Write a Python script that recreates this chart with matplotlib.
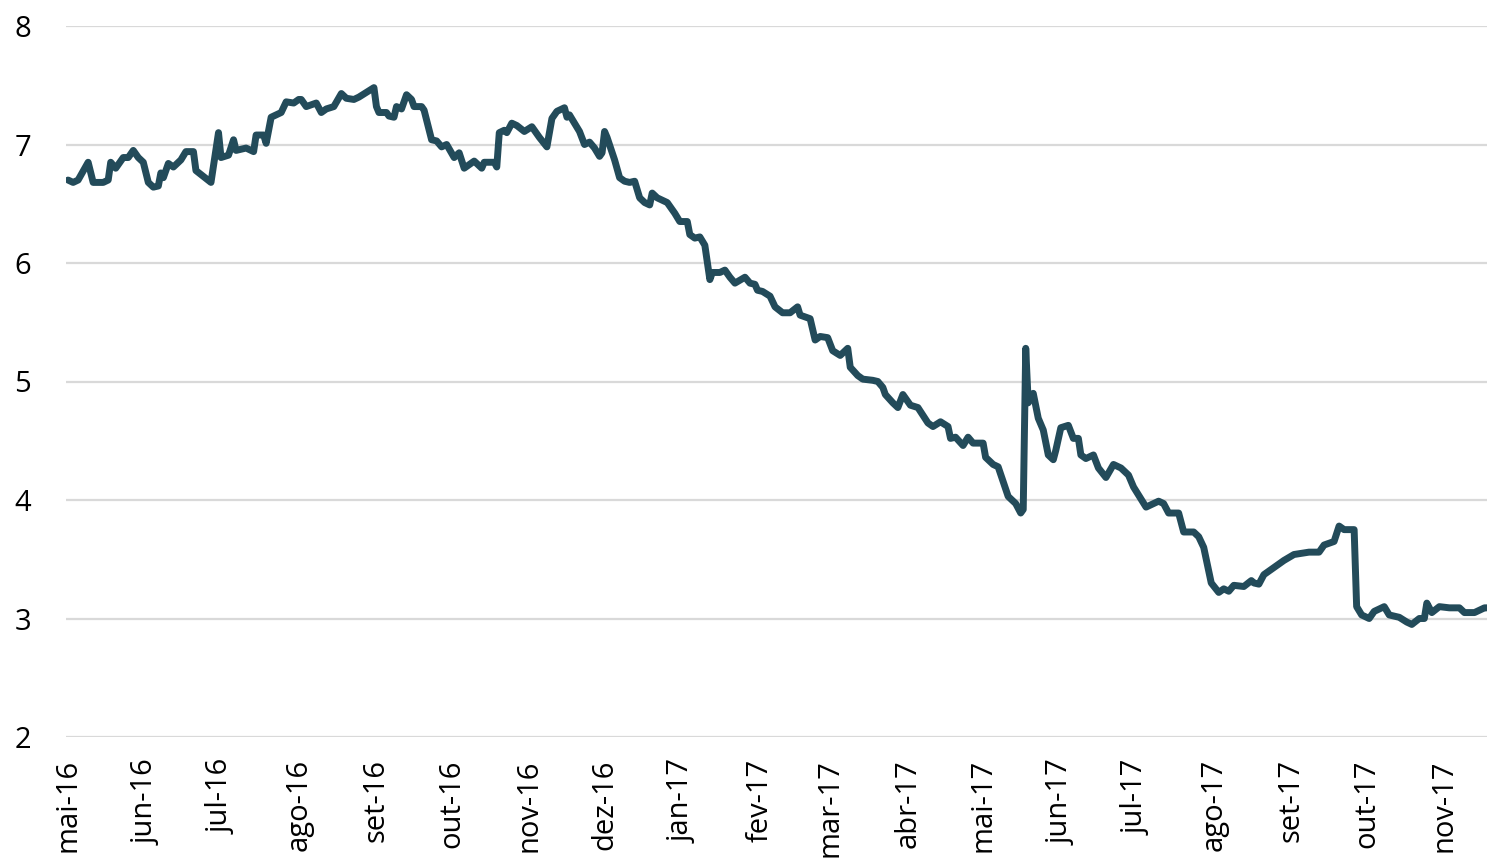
import matplotlib
matplotlib.use("Agg")
from matplotlib import pyplot as plt
import pandas as pd

# série (data, valor)
datas = [
    "2016-05-01", "2016-05-03", "2016-05-05", "2016-05-09", "2016-05-11", "2016-05-15",
    "2016-05-17", "2016-05-18", "2016-05-20", "2016-05-23", "2016-05-25", "2016-05-27",
    "2016-05-29", "2016-05-31", "2016-06-02", "2016-06-04", "2016-06-06", "2016-06-07",
    "2016-06-08", "2016-06-10", "2016-06-12", "2016-06-15", "2016-06-17", "2016-06-20",
    "2016-06-21", "2016-06-24", "2016-06-27", "2016-06-30", "2016-07-01", "2016-07-04",
    "2016-07-06", "2016-07-07", "2016-07-11", "2016-07-14", "2016-07-15", "2016-07-18",
    "2016-07-19", "2016-07-21", "2016-07-25", "2016-07-27", "2016-07-30", "2016-08-01",
    "2016-08-02", "2016-08-04", "2016-08-08", "2016-08-10", "2016-08-12", "2016-08-15",
    "2016-08-18", "2016-08-20", "2016-08-23", "2016-08-25", "2016-08-28", "2016-08-31",
    "2016-09-01", "2016-09-02", "2016-09-05", "2016-09-06", "2016-09-08", "2016-09-09",
    "2016-09-11", "2016-09-13", "2016-09-15", "2016-09-16", "2016-09-19", "2016-09-20",
    "2016-09-23", "2016-09-25", "2016-09-27", "2016-09-29", "2016-10-02", "2016-10-04",
    "2016-10-06", "2016-10-10", "2016-10-13", "2016-10-14", "2016-10-18", "2016-10-19",
    "2016-10-20", "2016-10-22", "2016-10-23", "2016-10-25", "2016-10-27", "2016-10-30",
    "2016-11-02", "2016-11-05", "2016-11-08", "2016-11-10", "2016-11-12", "2016-11-15",
    "2016-11-16", "2016-11-17", "2016-11-21", "2016-11-23", "2016-11-25", "2016-11-27",
    "2016-11-29", "2016-11-30", "2016-12-01", "2016-12-02", "2016-12-05", "2016-12-07",
    "2016-12-09", "2016-12-11", "2016-12-13", "2016-12-15", "2016-12-17", "2016-12-19",
    "2016-12-20", "2016-12-22", "2016-12-26", "2016-12-29", "2016-12-31", "2017-01-03",
    "2017-01-04", "2017-01-06", "2017-01-08", "2017-01-10", "2017-01-12", "2017-01-13",
    "2017-01-16", "2017-01-18", "2017-01-20", "2017-01-22", "2017-01-26", "2017-01-28",
    "2017-01-30", "2017-01-31", "2017-02-02", "2017-02-05", "2017-02-07", "2017-02-10",
    "2017-02-13", "2017-02-16", "2017-02-17", "2017-02-21", "2017-02-23", "2017-02-25",
    "2017-02-28", "2017-03-02", "2017-03-05", "2017-03-08", "2017-03-09", "2017-03-12",
    "2017-03-14", "2017-03-18", "2017-03-20", "2017-03-22", "2017-03-23", "2017-03-26",
    "2017-03-28", "2017-03-30", "2017-04-02", "2017-04-05", "2017-04-09", "2017-04-11",
    "2017-04-14", "2017-04-17", "2017-04-18", "2017-04-20", "2017-04-23", "2017-04-25",
    "2017-04-27", "2017-05-01", "2017-05-02", "2017-05-03", "2017-05-05", "2017-05-07",
    "2017-05-11", "2017-05-14", "2017-05-16", "2017-05-17", "2017-05-18", "2017-05-19",
    "2017-05-21", "2017-05-23", "2017-05-25", "2017-05-27", "2017-05-29", "2017-05-30",
    "2017-06-01", "2017-06-04", "2017-06-06", "2017-06-08", "2017-06-09", "2017-06-11",
    "2017-06-14", "2017-06-16", "2017-06-19", "2017-06-22", "2017-06-25", "2017-06-28",
    "2017-06-30", "2017-07-05", "2017-07-10", "2017-07-12", "2017-07-14", "2017-07-18",
    "2017-07-20", "2017-07-24", "2017-07-26", "2017-07-28", "2017-07-31", "2017-08-03",
    "2017-08-05", "2017-08-07", "2017-08-09", "2017-08-13", "2017-08-16", "2017-08-17",
    "2017-08-19", "2017-08-21", "2017-08-25", "2017-08-29", "2017-09-02", "2017-09-08",
    "2017-09-12", "2017-09-14", "2017-09-18", "2017-09-20", "2017-09-22", "2017-09-26",
    "2017-09-27", "2017-09-29", "2017-10-02", "2017-10-04", "2017-10-08", "2017-10-10",
    "2017-10-14", "2017-10-17", "2017-10-19", "2017-10-22", "2017-10-24", "2017-10-25",
    "2017-10-27", "2017-10-30", "2017-11-03", "2017-11-07", "2017-11-09", "2017-11-13",
    "2017-11-17", "2017-11-18",
]
valores = [
    6.70, 6.68, 6.70, 6.85, 6.68, 6.68,
    6.70, 6.85, 6.80, 6.89, 6.89, 6.95,
    6.89, 6.85, 6.68, 6.64, 6.65, 6.76,
    6.72, 6.84, 6.81, 6.87, 6.94, 6.94,
    6.78, 6.73, 6.68, 7.10, 6.89, 6.91,
    7.04, 6.95, 6.97, 6.94, 7.08, 7.08,
    7.01, 7.23, 7.27, 7.36, 7.35, 7.38,
    7.38, 7.32, 7.35, 7.27, 7.30, 7.32,
    7.43, 7.39, 7.38, 7.40, 7.44, 7.48,
    7.32, 7.27, 7.27, 7.24, 7.23, 7.32,
    7.30, 7.42, 7.38, 7.32, 7.32, 7.29,
    7.04, 7.03, 6.98, 7.00, 6.89, 6.93,
    6.80, 6.86, 6.80, 6.85, 6.85, 6.81,
    7.10, 7.12, 7.10, 7.18, 7.16, 7.11,
    7.15, 7.06, 6.98, 7.22, 7.28, 7.31,
    7.23, 7.25, 7.11, 7.00, 7.02, 6.97,
    6.90, 6.93, 7.11, 7.06, 6.87, 6.72,
    6.69, 6.68, 6.69, 6.55, 6.51, 6.49,
    6.59, 6.55, 6.51, 6.42, 6.35, 6.35,
    6.24, 6.21, 6.22, 6.15, 5.86, 5.92,
    5.92, 5.94, 5.88, 5.83, 5.88, 5.83,
    5.82, 5.77, 5.76, 5.72, 5.63, 5.58,
    5.58, 5.63, 5.56, 5.53, 5.35, 5.38,
    5.37, 5.26, 5.22, 5.28, 5.12, 5.05,
    5.02, 5.01, 5.00, 4.95, 4.89, 4.82,
    4.78, 4.89, 4.80, 4.78, 4.65, 4.62,
    4.66, 4.62, 4.52, 4.53, 4.46, 4.53,
    4.48, 4.48, 4.36, 4.34, 4.30, 4.28,
    4.03, 3.97, 3.89, 3.92, 5.28, 4.82,
    4.90, 4.69, 4.59, 4.38, 4.34, 4.42,
    4.61, 4.63, 4.52, 4.52, 4.38, 4.35,
    4.38, 4.27, 4.19, 4.30, 4.27, 4.21,
    4.11, 3.94, 3.99, 3.97, 3.89, 3.89,
    3.73, 3.73, 3.69, 3.60, 3.30, 3.22,
    3.25, 3.23, 3.28, 3.27, 3.32, 3.30,
    3.29, 3.37, 3.43, 3.49, 3.54, 3.56,
    3.56, 3.62, 3.65, 3.78, 3.75, 3.75,
    3.10, 3.03, 3.00, 3.06, 3.10, 3.03,
    3.01, 2.97, 2.95, 3.00, 3.00, 3.13,
    3.05, 3.10, 3.09, 3.09, 3.05, 3.05,
    3.09, 3.09,
]
meses = ["mai", "jun", "jul", "ago", "set", "out", "nov", "dez",
         "jan", "fev", "mar", "abr", "mai", "jun", "jul", "ago", "set", "out", "nov"]

datas = pd.to_datetime(datas)

plt.rcParams['font.family'] = ['Open Sans', 'DejaVu Sans']

fig = plt.figure(figsize=(14.87, 8.67), dpi=100)
ax = fig.add_axes([66 / 1487, 1 - 737 / 867, 1 - 66 / 1487, 711 / 867])

ax.plot(datas, valores, color="#234b5a", lw=5, solid_joinstyle="round", solid_capstyle="round")

ax.set_ylim(2, 8)
ax.set_yticks(range(2, 9))
ax.set_xlim(pd.Timestamp("2016-04-30 04:00"), pd.Timestamp("2017-11-18"))

ticks = pd.date_range("2016-05-01", "2017-11-01", freq="MS")
ax.set_xticks(ticks)
ax.set_xticklabels([m + "-" + d.strftime("%y") for m, d in zip(meses, ticks)], rotation=90)

ax.grid(axis="y", color="#d9d9d9", lw=1.6)
ax.set_axisbelow(True)
for s in ax.spines.values():
    s.set_visible(False)
ax.tick_params(axis="both", length=0, labelsize=21)
ax.tick_params(axis="y", pad=25)
ax.tick_params(axis="x", pad=16)

fig.savefig("out.png", dpi=100)
